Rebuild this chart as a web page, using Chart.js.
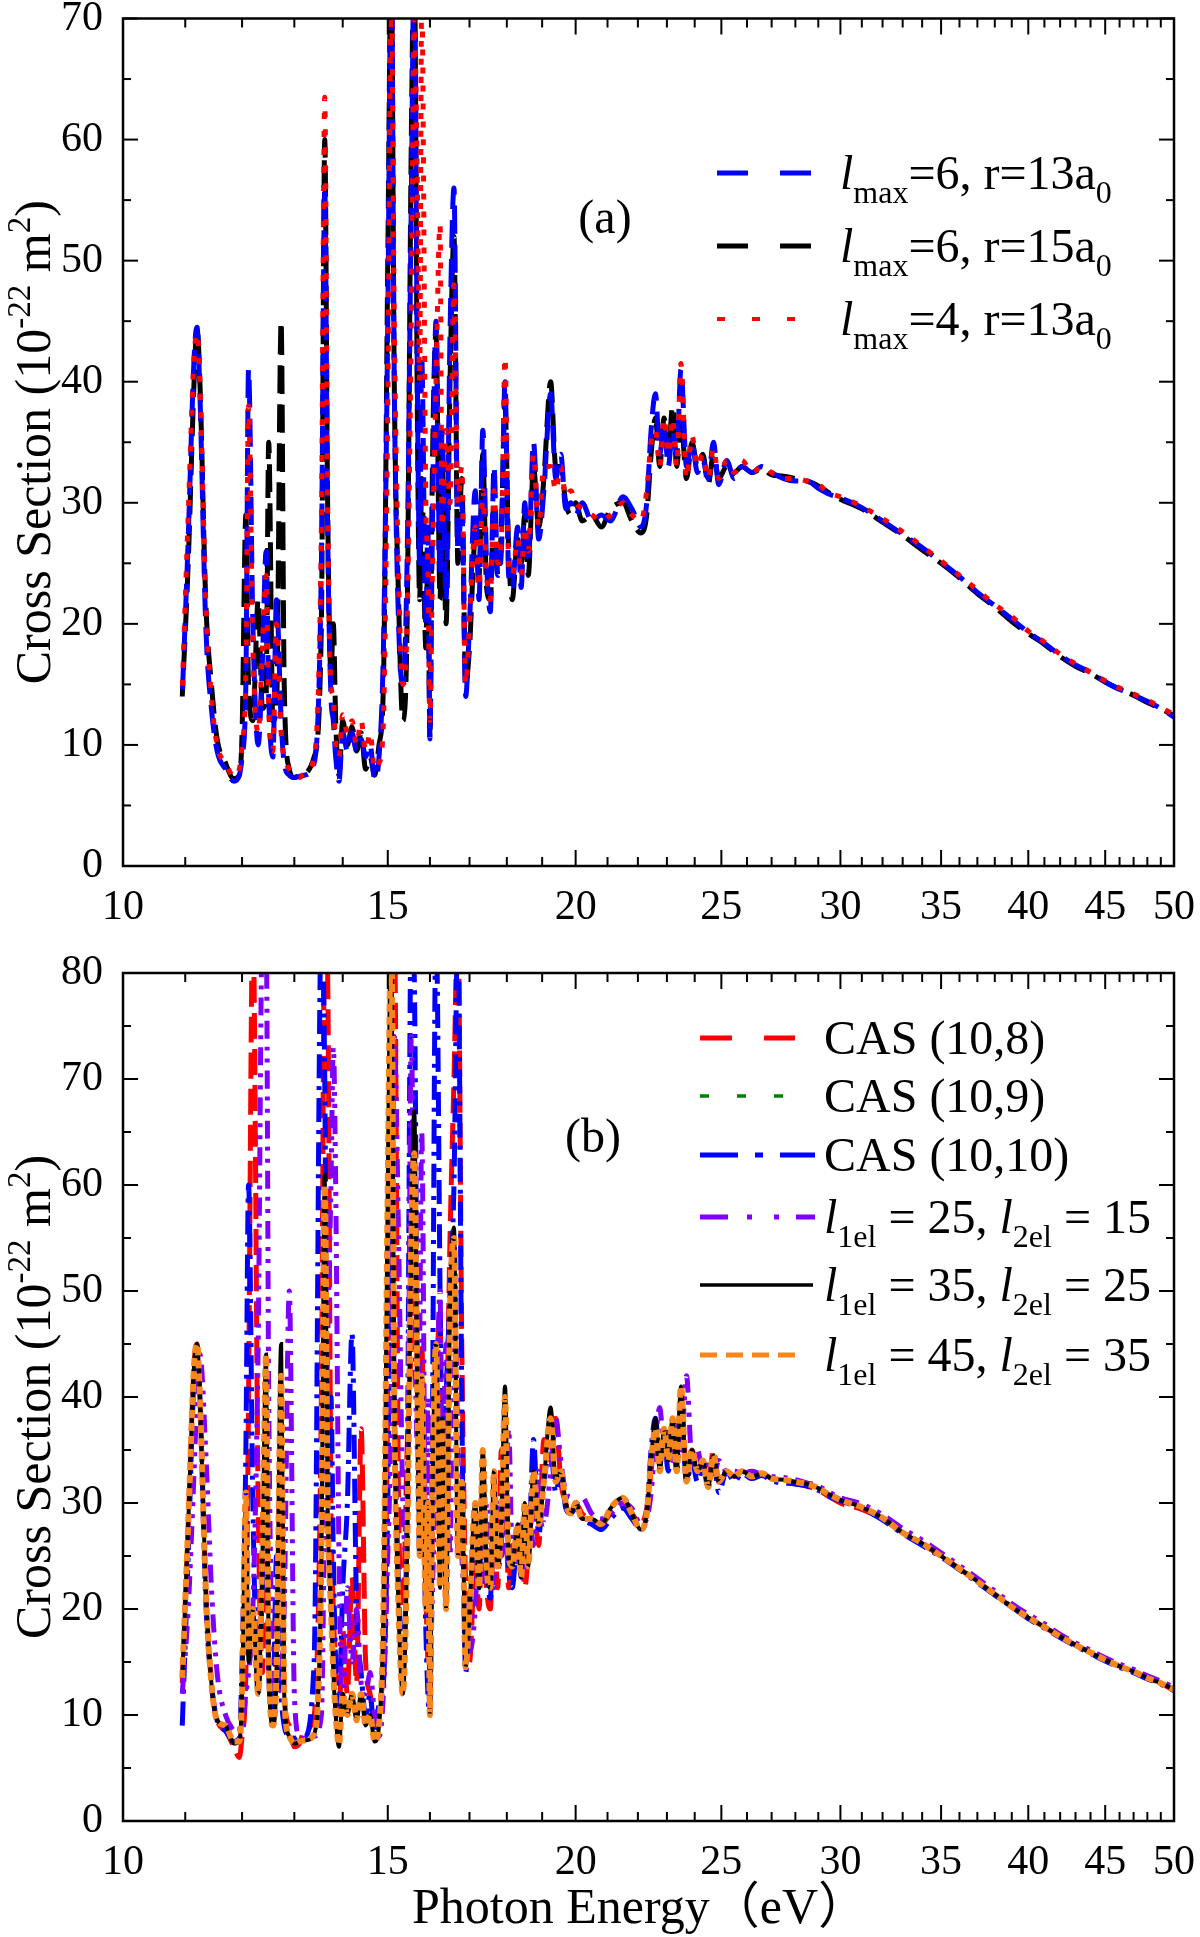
<!DOCTYPE html>
<html><head><meta charset="utf-8">
<script src="https://cdn.jsdelivr.net/npm/chart.js@4"></script>
<style>
html,body{margin:0;padding:0;background:#fff;}
#wrap{position:relative;width:1200px;height:1937px;overflow:hidden;}
canvas{position:absolute;left:0;}
</style></head><body>
<div id="wrap">
<canvas id="ca" width="1200" height="940" style="top:0px"></canvas>
<canvas id="cb" width="1200" height="997" style="top:940px"></canvas>
</div>
<script>
// ---------- data (photon energy in eV, cross section in 1e-22 m^2) ----------
const energy = [
10.95,11.05,11.15,11.2,11.25,11.35,11.45,11.55,11.7,11.85,
11.95,12.0,12.07,12.12,12.2,12.3,12.38,12.45,12.5,12.58,
12.65,12.74,12.8,12.9,13.0,13.1,13.2,13.4,13.55,13.62,
13.68,13.75,13.8,13.85,13.92,14.0,14.1,14.2,14.3,14.4,
14.5,14.6,14.7,14.8,14.9,15.0,15.08,15.15,15.25,15.35,
15.45,15.55,15.62,15.7,15.75,15.8,15.9,15.95,16.0,16.05,
16.15,16.25,16.3,16.4,16.5,16.6,16.7,16.8,16.9,17.0,
17.15,17.25,17.35,17.45,17.55,17.65,17.75,17.85,17.95,18.05,
18.15,18.3,18.4,18.5,18.6,18.75,18.9,19.05,19.25,19.4,
19.55,19.7,19.85,20.0,20.2,20.5,20.8,21.1,21.5,21.8,
22.1,22.3,22.45,22.6,22.75,22.9,23.05,23.2,23.35,23.5,
23.7,23.9,24.1,24.3,24.5,24.7,24.9,25.2,25.5,25.8,
26.2,26.6,27,27.5,28,28.5,29,29.5,30,31,
32,33,34,35,36,37,38,39,40,41,
42,43,44,45,46,47,48,49,50];

// panel (a)
const lmax6_r13 = [
14,27,42,44.5,39,20,13,9.5,8,7,
7.5,9,15,41,20,10,17,26,14,9,
22,12,8.5,7.5,7.3,7.4,7.5,8.5,25,56,
28,14,12,9,7,11,9.5,11,9.5,10.5,
9,10,7.2,9,18,45,75,40,20,15,
25,55,75,38,25,42,20,28,10.5,25,
45,24,36,22,44,56,26,30,14,20,
31,22,36,25,21,33,24,26,40,24,
23,28,23,30,25,35,27,31,39,32,
34,29.5,30,29,30,28.5,29,28.5,30.5,29.5,
28,30,36,39,34,36.5,33,36,34,41,
33,35,32.5,33.5,32,35,31.5,33.5,32,33,
32.5,33,32.5,32,31.8,31.8,31.2,30.7,30.4,29.6,
28.5,27.4,26.3,25.1,23.9,22.6,21.5,20.4,19.3,18.4,
17.4,16.6,16,15.2,14.6,14.1,13.6,13,12.3];

const lmax6_r15 = [
14,25,40,44.5,40,22,15,10.5,8.5,7.2,
7.5,11,29,15,12,22,13,14,35,12,
13,45,15,8,7.3,7.5,7.6,9,20,60,
30,16,20,12,7.5,12,10,11.5,9.5,11,
8,9,7.5,10,15,50,75,40,22,12,
20,60,75,35,22,32,18,26,10.5,30,
44,22,34,20,40,52,25,32,15,18,
27,24,34,23,22,30,24,28,38,26,
22,27,25,29,24,33,28,32,40,33,
33,30,29,30,28.5,29,28,29.5,30,28.5,
27.5,29,34,37,33,37,34,38,33,37,
32,35,33,34,31.5,34,32,33,32.5,33,
32.5,32.8,32.3,32.2,32,31.8,31.4,30.8,30.3,29.5,
28.4,27.3,26.1,25,23.8,22.5,21.4,20.2,19.2,18.3,
17.3,16.5,15.9,15.2,14.6,14.1,13.5,13,12.4];

const lmax4_r13 = [
14.5,29,42,44,40,22,14,10,8.5,7.4,
8,10,16,38,18,11,18,24,13,9.5,
20,11,9,8,7.4,7.3,7.6,9,28,63.5,
30,15,14,10,9,12.5,11,12,10,12,
9.5,11,8,8.5,12,38,72,45,24,15,
20,45,70,55,40,72,30,25,12,22,
40,53,28,36,30,48,30,33,15,20,
28,23,31,24,22,31,25,27,42,25,
24,27,24,28,26,34,28,33,33,31,
33,30.5,31,30,29.5,29,28.5,29,30,29,
28.5,31,35,36,33,37,34,37,33,41.5,
32,35.5,33,34,32,34.5,32,33.5,32.5,33.5,
32.5,33,32.5,32,32,31.8,31.5,30.8,30.5,29.7,
28.7,27.6,26.4,25.2,24,22.8,21.6,20.6,19.4,18.5,
17.5,16.7,16,15.3,14.7,14.2,13.7,13.1,12.5];

// panel (b)
const cas10_8 = [
13,28,43,45,40,22,13,9.5,8.5,7,
6,8,14,40,85,30,14,38,15,10,
18,35,12,9,7,7.3,8.5,10,40,85,
80,30,20,14,10,18,12,23,13,37,
15,12,9,11,15,40,80,85,30,20,
35,45,55,40,30,45,22,15,11,25,
40,48,30,35,55,70,85,45,22,15,
25,20,30,22,20,28,22,35,33,22,
26,24,28,22,25,30,26,36,34,38,
32,30,29,30,29,28.5,28,29,30,29,
28,29.5,33,37,34,36,35,37,34,40,
33,35,33,34,32,35,32,33,32.5,33,
32.5,32.8,32.3,32,31.8,31.6,31.2,30.6,30,29.4,
28.5,27.2,26.1,25,23.8,22.6,21.4,20.2,19.2,18.3,
17.4,16.6,15.9,15.2,14.6,14.1,13.5,13,12.3];

const cas10_9 = [
13.5,28,43,45,40,22,13,9.5,9,7.3,
7.5,12,30,15,20,12,25,44,15,9,
14,45,12,8,7.3,7.5,7.6,8.2,25,61,
30,20,14,10,7,12,10,12,9.5,12,
9,10,7.5,9,20,60,85,40,20,12,
25,55,67,38,25,42,20,30,10,28,
45,22,38,20,48,56,25,32,14.5,20,
30,22,35,24,22,33,24,28,41,25,
24,28,23,30,24,33,28,32,39,32,
33,30,29,30,28.5,28.5,28,29.5,30.5,29,
27.5,29,34,38,33,37,34,38,33,41,
32,35,33,34,31.5,34.5,32,33,32.5,33,
32.5,32.8,32.3,32.2,32,31.8,31.4,30.8,30.3,29.6,
28.6,27.2,26.2,25,23.8,22.6,21.4,20.2,19.2,18.3,
17.4,16.6,15.9,15.2,14.6,14.1,13.5,13,12.4];

const cas10_10 = [
9,25,42,44,40,21,13,9.5,8.5,7.5,
8,15,35,60,30,12,22,30,14,10,
25,12,9,8,7.8,8,8,15,85,70,
30,40,25,15,11,22,30,46,20,14,
10,12,8,11,13,30,60,40,22,15,
30,85,80,40,25,35,18,12,10,30,
85,50,30,40,50,60,85,40,14,20,
28,22,33,24,21,30,24,26,36,24,
22,27,23,30,25,36,27,32,35,31,
33,29.5,29,29.5,28.5,28,27.5,28.5,29.5,28.5,
27.5,29,35,38,34,36,33,37,33,39,
32,34,32,33.5,31.5,34,31,33,32,32.8,
32.3,32.6,32.1,31.9,31.8,31.6,31.2,30.6,30.2,29.5,
28.4,27.1,26,24.9,23.7,22.5,21.3,20.2,19.1,18.2,
17.3,16.5,15.8,15.1,14.5,14,13.4,12.9,12.3];

const l1el25_l2el15 = [
12,20,33,40,44,35,22,14,10,8.5,
8,8.5,12,14,20,45,85,85,40,15,
12,14,20,50,12,8,7.8,8,10,30,
45,60,73,60,25,10,22,15,20,13,
12,14,10,8,12,25,40,74,55,30,
25,74,50,35,45,65,25,40,14,20,
35,50,30,45,25,55,35,25,20,16,
20,28,22,30,25,22,30,25,28,37,
25,24,28,24,30,26,33,28,33,38,
34,31,30.5,30,30.5,29,28.5,29,30,29.5,
28,28.5,31,36,39,35,37,34,38,35,
42,34,35,33,34,32.5,34,33,33,32.8,
33,32.7,32.5,32.4,32.2,31.9,31.6,31,30.5,29.9,
28.9,27.6,26.5,25.3,24.1,22.9,21.7,20.5,19.5,18.6,
17.6,16.8,16.1,15.4,14.8,14.3,13.7,13.2,12.6];

const l1el35_l2el25 = [
13.5,28,43,45,40,22,13,9.5,9,7.3,
7.5,12,30,15,20,12,25,44,15,9,
14,45,12,8,7.3,7.5,7.6,8.2,25,61,
30,20,14,10,7,12,10,12,9.5,12,
9,10,7.5,9,20,60,85,40,20,12,
25,55,67,38,25,42,20,30,10,28,
45,22,38,20,48,56,25,32,14.5,20,
30,22,35,24,22,33,24,28,41,25,
24,28,23,30,24,33,28,32,39,32,
33,30,29,30,28.5,28.5,28,29.5,30.5,29,
27.5,29,34,38,33,37,34,38,33,41,
32,35,33,34,31.5,34.5,32,33,32.5,33,
32.5,32.8,32.3,32.2,32,31.8,31.4,30.8,30.3,29.6,
28.6,27.2,26.2,25,23.8,22.6,21.4,20.2,19.2,18.3,
17.4,16.6,15.9,15.2,14.6,14.1,13.5,13,12.4];

const l1el45_l2el35 = [
13.5,28,43,45,40,22,13,9.5,9,7.5,
7.5,12,31,16,20,12,26,44,16,9,
14,42,12,8,7.3,7.5,7.6,8.2,25,60,
30,20,14,10,7.2,12,10,12,9.5,12,
9,10,7.5,9,20,60,85,40,20,12,
25,55,63,38,25,42,20,30,10,28,
45,22,38,20,48,55,25,32,14.5,20,
30,22,35,24,22,33,24,28,40,25,
24,28,23,30,24,33,28,32,38,32,
33,30,29,30,28.5,28.5,28,29.5,30.5,29,
27.5,29,34,37,33,37,34,38,33,41,
32,35,33,34,31.5,34.5,32,33,32.5,33,
32.5,32.8,32.3,32.2,32,31.8,31.4,30.8,30.3,29.6,
28.6,27.2,26.2,25,23.8,22.6,21.4,20.2,19.2,18.3,
17.4,16.6,15.9,15.2,14.6,14.1,13.5,13,12.4];

// ticks
const xMajorTicks = [10,15,20,25,30,35,40,45,50];
const xTickLabels = ['10','15','20','25','30','35','40','45','50'];
const xMinorTicks = [11,12,13,14,16,17,18,19,21,22,23,24,26,27,28,29,31,32,33,34,36,37,38,39,41,42,43,44,46,47,48,49];
const yMajorA = [0,10,20,30,40,50,60,70];
const yMinorA = [5,15,25,35,45,55,65];
const yMajorB = [0,10,20,30,40,50,60,70,80];
const yMinorB = [5,15,25,35,45,55,65,75];

// ---------- drawing ----------
const serif = "'Liberation Serif','Times New Roman','Noto Sans CJK SC',serif";
const pts = arr => energy.map((e,i)=>({x:e,y:arr[i]}));

function drawRich(ctx, parts, x, y, size){
  let cx = x;
  parts.forEach(p=>{
    const s = (p.sub||p.sup) ? Math.round(size*0.66) : size;
    ctx.font = (p.it?'italic ':'') + s + 'px ' + serif;
    const dy = p.sub ? size*0.3 : (p.sup ? -size*0.4 : 0);
    ctx.fillText(p.t, cx, y+dy);
    cx += ctx.measureText(p.t).width;
  });
  return cx - x;
}
function richWidth(ctx, parts, size){
  let w = 0;
  parts.forEach(p=>{
    const s = (p.sub||p.sup) ? Math.round(size*0.66) : size;
    ctx.font = (p.it?'italic ':'') + s + 'px ' + serif;
    w += ctx.measureText(p.t).width;
  });
  return w;
}

function axesPlugin(o){
  return {
    id:'axes_'+o.name,
    afterDatasetsDraw(chart){
      const {ctx, chartArea:a, scales:{x,y}} = chart;
      ctx.save();
      ctx.strokeStyle='#000';
      ctx.lineWidth=2.5;
      ctx.strokeRect(a.left, a.top, a.right-a.left, a.bottom-a.top);
      ctx.lineWidth=2;
      const ln=(x1,y1,x2,y2)=>{ctx.beginPath();ctx.moveTo(x1,y1);ctx.lineTo(x2,y2);ctx.stroke();};
      xMajorTicks.forEach(v=>{const p=x.getPixelForValue(v); ln(p,a.bottom,p,a.bottom-16); ln(p,a.top,p,a.top+16);});
      xMinorTicks.forEach(v=>{const p=x.getPixelForValue(v); ln(p,a.bottom,p,a.bottom-9); ln(p,a.top,p,a.top+9);});
      o.yMajor.forEach(v=>{const p=y.getPixelForValue(v); ln(a.left,p,a.left+15,p); ln(a.right,p,a.right-15,p);});
      o.yMinor.forEach(v=>{const p=y.getPixelForValue(v); ln(a.left,p,a.left+8,p); ln(a.right,p,a.right-8,p);});
      // tick labels
      ctx.fillStyle='#000';
      ctx.font='42px '+serif;
      ctx.textBaseline='middle';
      ctx.textAlign='center';
      xMajorTicks.forEach((v,i)=>ctx.fillText(xTickLabels[i], x.getPixelForValue(v), a.bottom+42));
      ctx.textAlign='right';
      o.yMajor.forEach(v=>ctx.fillText(String(v), a.left-20, y.getPixelForValue(v)));
      // y title
      ctx.textAlign='left';
      ctx.textBaseline='alphabetic';
      const tparts=[{t:'Cross Section (10'},{t:'-22',sup:true},{t:' m'},{t:'2',sup:true},{t:')'}];
      const ts=50;
      const tw=richWidth(ctx,tparts,ts);
      ctx.save();
      ctx.translate(33,(a.top+a.bottom)/2);
      ctx.rotate(-Math.PI/2);
      drawRich(ctx,tparts,-tw/2,ts*0.33,ts);
      ctx.restore();
      // panel label
      ctx.font='48px '+serif;
      ctx.textAlign='center';
      ctx.textBaseline='middle';
      ctx.fillText(o.panel, o.panelX, o.panelY);
      // legend
      ctx.textAlign='left';
      o.legend.forEach(r=>{
        ctx.save();
        ctx.strokeStyle=r.color; ctx.lineWidth=r.w; ctx.setLineDash(r.dash||[]);
        ctx.beginPath(); ctx.moveTo(o.lx0, r.y); ctx.lineTo(r.x1, r.y); ctx.stroke();
        ctx.restore();
        ctx.fillStyle='#000';
        ctx.textBaseline='alphabetic';
        drawRich(ctx, r.parts, o.tx, r.y+16, 48);
      });
      if(o.xTitle){
        ctx.font='50px '+serif;
        ctx.textAlign='center';
        ctx.textBaseline='middle';
        ctx.fillText(o.xTitle, o.xTitleX, a.bottom+o.xTitleDy);
      }
      ctx.restore();
    }
  };
}

const ds = (label, arr, color, w, dash, order) => ({
  label, data: pts(arr), borderColor: color, borderWidth: w, borderDash: dash,
  pointRadius: 0, fill: false, cubicInterpolationMode: 'monotone', clip: 0, order
});

// length of the drawn (bezier) path up to point index `upto`
function pathLen(el, upto){
  let L = 0;
  for (let i=1;i<=upto;i++){
    const a=el[i-1], b=el[i];
    const c1x = a.cp2x ?? a.x, c1y = a.cp2y ?? a.y, c2x = b.cp1x ?? b.x, c2y = b.cp1y ?? b.y;
    let px=a.x, py=a.y;
    for (let k=1;k<=24;k++){
      const t=k/24, u=1-t;
      const qx=u*u*u*a.x+3*u*u*t*c1x+3*u*t*t*c2x+t*t*t*b.x;
      const qy=u*u*u*a.y+3*u*u*t*c1y+3*u*t*t*c2y+t*t*t*b.y;
      L+=Math.hypot(qx-px,qy-py); px=qx; py=qy;
    }
  }
  return L;
}
// put the dash patterns of several datasets in step at one point of the tail
function alignDashes(chart, refIndex, specs){
  specs.forEach(s=>{
    const el = chart.getDatasetMeta(s.ds).data;
    const L = pathLen(el, refIndex);
    chart.data.datasets[s.ds].borderDashOffset = (((s.phase - L) % s.period) + s.period) % s.period;
  });
  chart.update('none');
}

// Panel (a)
const chartA = new Chart(document.getElementById('ca'), {
  type:'line',
  data:{datasets:[
    ds('lmax=4, r=13a0', lmax4_r13, '#ff0000', 5, [6,12], 0),
    ds('lmax=6, r=13a0', lmax6_r13, '#0000ff', 5, [28,11], 1),
    ds('lmax=6, r=15a0', lmax6_r15, '#000000', 5, [28,11], 2)
  ]},
  options:{
    responsive:false, animation:false, devicePixelRatio:1,
    layout:{padding:{left:123,right:26,top:18.5,bottom:74}},
    plugins:{legend:{display:false},tooltip:{enabled:false}},
    scales:{
      x:{type:'logarithmic',min:10,max:50,display:false},
      y:{type:'linear',min:0,max:70,display:false}
    }
  },
  plugins:[axesPlugin({
    name:'a', yMajor:yMajorA, yMinor:yMinorA, panel:'(a)', panelX:605, panelY:220,
    lx0:717, tx:840,
    legend:[
      {y:173, x1:813, color:'#0000ff', w:5, dash:[31,32], parts:[{t:'l',it:true},{t:'max',sub:true},{t:'=6, r=13a'},{t:'0',sub:true}]},
      {y:246, x1:813, color:'#000000', w:5, dash:[31,32], parts:[{t:'l',it:true},{t:'max',sub:true},{t:'=6, r=15a'},{t:'0',sub:true}]},
      {y:319, x1:801, color:'#ff0000', w:4, dash:[8,27], parts:[{t:'l',it:true},{t:'max',sub:true},{t:'=4, r=13a'},{t:'0',sub:true}]}
    ]
  })]
});
alignDashes(chartA, 128, [
  {ds:1, period:39, phase:0},
  {ds:2, period:39, phase:4},
  {ds:0, period:18, phase:9}
]);

// Panel (b)
new Chart(document.getElementById('cb'), {
  type:'line',
  data:{datasets:[
    ds('l1el = 45, l2el = 35', l1el45_l2el35, '#f7861c', 6, [8,5], 0),
    ds('l1el = 35, l2el = 25', l1el35_l2el25, '#000000', 4, [], 1),
    ds('CAS (10,9)', cas10_9, '#008000', 3, [3,10], 2),
    ds('l1el = 25, l2el = 15', l1el25_l2el15, '#8000ff', 5, [18,8,4,8,4,8], 3),
    ds('CAS (10,10)', cas10_10, '#0000ff', 5, [24,8,4,8], 4),
    ds('CAS (10,8)', cas10_8, '#ff0000', 5, [26,10], 5)
  ]},
  options:{
    responsive:false, animation:false, devicePixelRatio:1,
    layout:{padding:{left:123,right:26,top:33,bottom:116}},
    plugins:{legend:{display:false},tooltip:{enabled:false}},
    scales:{
      x:{type:'logarithmic',min:10,max:50,display:false},
      y:{type:'linear',min:0,max:80,display:false}
    }
  },
  plugins:[axesPlugin({
    name:'b', yMajor:yMajorB, yMinor:yMinorB, panel:'(b)', panelX:593, panelY:199,
    lx0:700, tx:824,
    xTitle:'Photon Energy（eV）', xTitleX:640, xTitleDy:89,
    legend:[
      {y:98, x1:795, color:'#ff0000', w:5, dash:[32,32], parts:[{t:'CAS (10,8)'}]},
      {y:156, x1:787, color:'#008000', w:3.5, dash:[9,28], parts:[{t:'CAS (10,9)'}]},
      {y:215, x1:815, color:'#0000ff', w:5, dash:[38,17,8,17], parts:[{t:'CAS (10,10)'}]},
      {y:277, x1:815, color:'#8000ff', w:5, dash:[28,19,5,22,5,17], parts:[{t:'l',it:true},{t:'1el',sub:true},{t:' = 25, '},{t:'l',it:true},{t:'2el',sub:true},{t:' = 15'}]},
      {y:345, x1:813, color:'#000000', w:3.5, dash:[], parts:[{t:'l',it:true},{t:'1el',sub:true},{t:' = 35, '},{t:'l',it:true},{t:'2el',sub:true},{t:' = 25'}]},
      {y:415, x1:802, color:'#f7861c', w:5, dash:[17,9], parts:[{t:'l',it:true},{t:'1el',sub:true},{t:' = 45, '},{t:'l',it:true},{t:'2el',sub:true},{t:' = 35'}]}
    ]
  })]
});
</script>
</body></html>
